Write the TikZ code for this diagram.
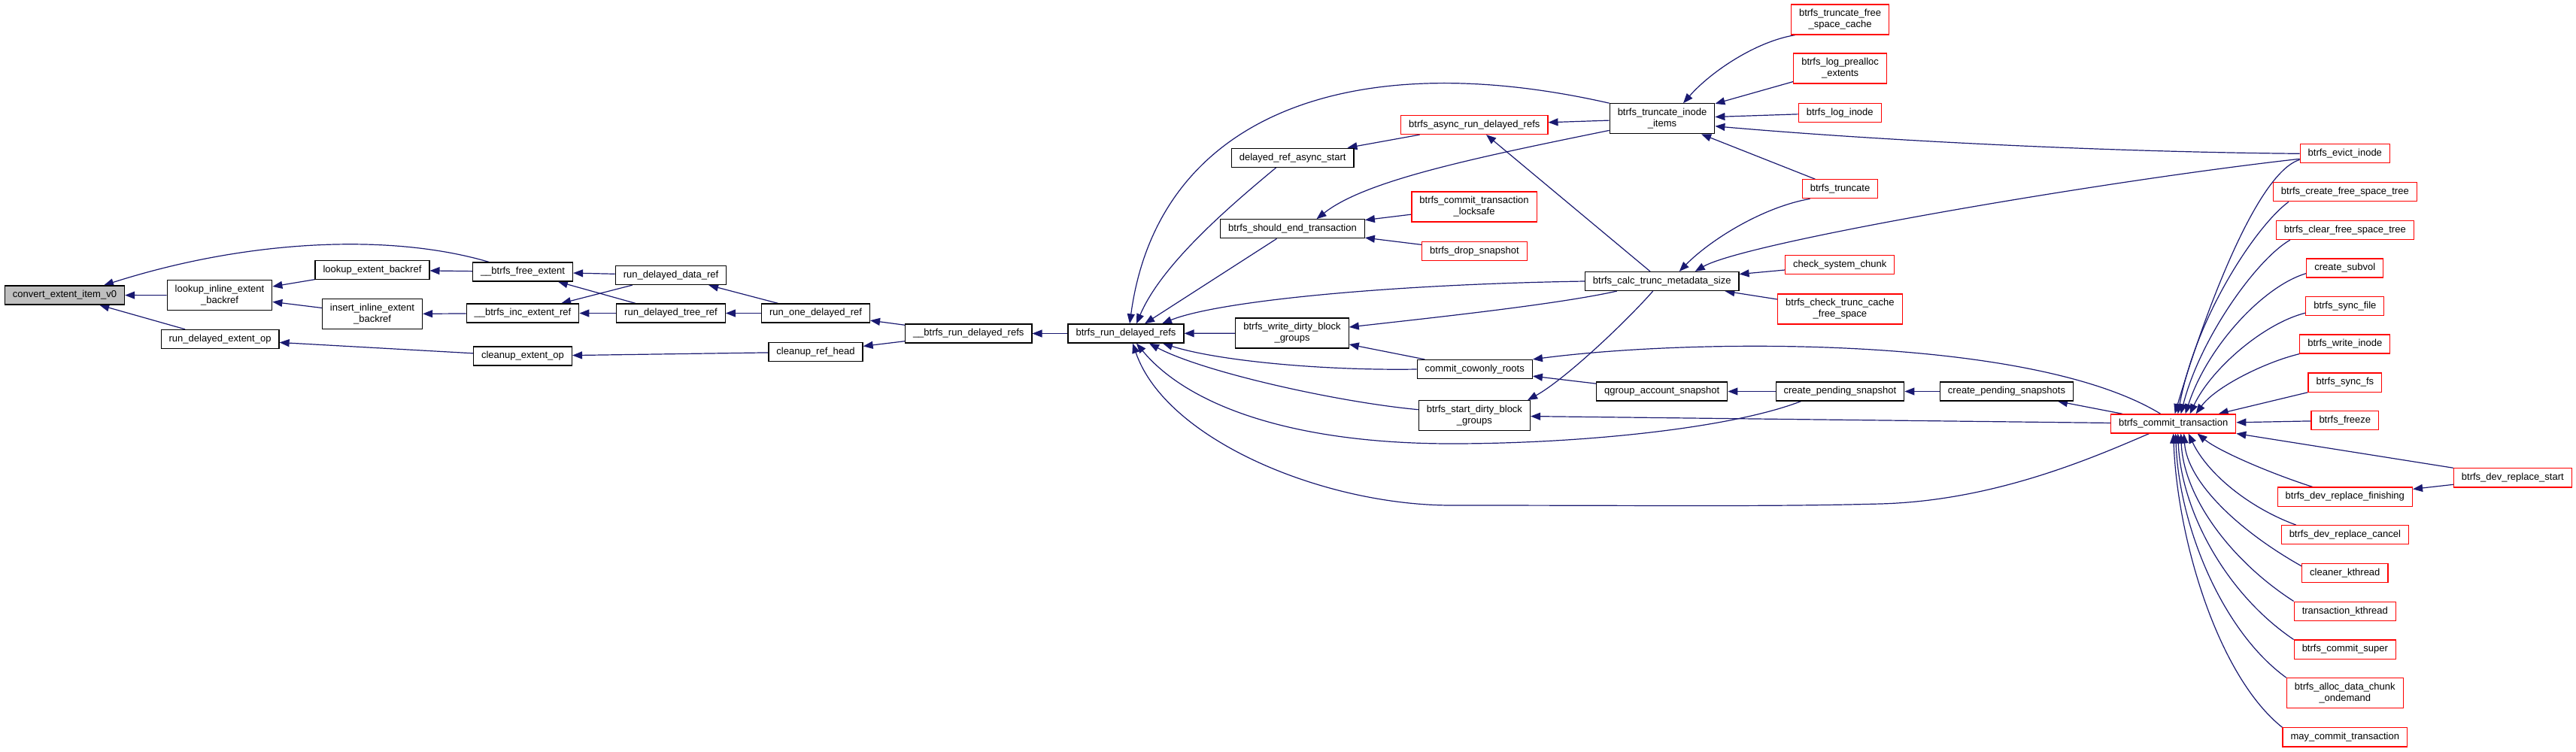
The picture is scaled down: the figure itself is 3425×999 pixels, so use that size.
\documentclass[tikz,border=0pt]{standalone}
\usepackage{fontspec}
\setmainfont{Liberation Sans}
\usetikzlibrary{arrows.meta,backgrounds}
\definecolor{navy}{HTML}{191970}

\begin{document}
\begin{tikzpicture}[x=1pt, y=-1pt,
  fn/.style={draw=black, line width=1.2pt, fill=white, align=center,
             font=\fontsize{13}{15}\selectfont, minimum height=25pt,
             inner xsep=10.5pt, inner ysep=6.5pt},
  root/.style={fn, fill=black!25},
  trunc/.style={fn, draw=red},
  arr/.style={{Triangle[length=13pt,width=10pt]}-, line width=1.2pt, draw=navy}]
  \useasboundingbox (0,0) rectangle (3425,999);

  % callees on the left
  \node[root] (conv) at (86,392.5) {convert\_extent\_item\_v0};
  \node[fn] (lieb) at (292,392.7) {lookup\_inline\_extent\\\_backref};
  \node[fn] (rdeo) at (292.6,451) {run\_delayed\_extent\_op};
  \node[fn] (leb) at (495,359) {lookup\_extent\_backref};
  \node[fn] (iieb) at (495,417.7) {insert\_inline\_extent\\\_backref};
  \node[fn] (bfe) at (695,361.5) {\_\_btrfs\_free\_extent};
  \node[fn] (bier) at (695,416.5) {\_\_btrfs\_inc\_extent\_ref};
  \node[fn] (ceo) at (695,473.5) {cleanup\_extent\_op};
  \node[fn] (rddr) at (892,366) {run\_delayed\_data\_ref};
  \node[fn] (rdtr) at (892,416.5) {run\_delayed\_tree\_ref};
  \node[fn] (rodr) at (1084.5,416.5) {run\_one\_delayed\_ref};
  \node[fn] (crh) at (1084.5,468) {cleanup\_ref\_head};
  \node[fn] (ubrdr) at (1287.7,443.5) {\_\_btrfs\_run\_delayed\_refs};
  \node[fn] (brdr) at (1497,443.5) {btrfs\_run\_delayed\_refs};

  % middle
  \node[fn] (dras) at (1718.7,209.7) {delayed\_ref\_async\_start};
  \node[fn] (bset) at (1718.5,304.3) {btrfs\_should\_end\_transaction};
  \node[fn] (bwdbg) at (1718,443) {btrfs\_write\_dirty\_block\\\_groups};
  \node[trunc] (barfr) at (1960.3,166) {btrfs\_async\_run\_delayed\_refs};
  \node[trunc] (bctl) at (1960,275) {btrfs\_commit\_transaction\\\_locksafe};
  \node[trunc] (bds) at (1960.4,334) {btrfs\_drop\_snapshot};
  \node[fn] (ccr) at (1960.7,491) {commit\_cowonly\_roots};
  \node[fn] (bsdbg) at (1960.4,552.7) {btrfs\_start\_dirty\_block\\\_groups};
  \node[fn] (btii) at (2210,157.8) {btrfs\_truncate\_inode\\\_items};
  \node[fn] (bctms) at (2209.7,374) {btrfs\_calc\_trunc\_metadata\_size};
  \node[fn] (qas) at (2209.7,520.5) {qgroup\_account\_snapshot};
  \node[trunc] (btfsc) at (2446.6,26) {btrfs\_truncate\_free\\\_space\_cache};
  \node[trunc] (blpe) at (2446.6,91) {btrfs\_log\_prealloc\\\_extents};
  \node[trunc] (bli) at (2446.2,150) {btrfs\_log\_inode};
  \node[trunc] (btr) at (2446.5,251.3) {btrfs\_truncate};
  \node[trunc] (csc) at (2446.2,352.3) {check\_system\_chunk};
  \node[trunc] (bctcfs) at (2446.4,411) {btrfs\_check\_trunc\_cache\\\_free\_space};
  \node[fn] (cps) at (2446.4,520.5) {create\_pending\_snapshot};
  \node[fn] (cpss) at (2668,520.5) {create\_pending\_snapshots};
  \node[trunc] (bct) at (2889.6,563.4) {btrfs\_commit\_transaction};

  % callers on the right
  \node[trunc] (bei) at (3117.8,204.3) {btrfs\_evict\_inode};
  \node[trunc] (bcfst) at (3117.8,255.3) {btrfs\_create\_free\_space\_tree};
  \node[trunc] (bclfst) at (3117.8,306) {btrfs\_clear\_free\_space\_tree};
  \node[trunc] (cs) at (3117.8,356.5) {create\_subvol};
  \node[trunc] (bsf) at (3117.8,407) {btrfs\_sync\_file};
  \node[trunc] (bwi) at (3117.8,457.5) {btrfs\_write\_inode};
  \node[trunc] (bsfs) at (3117.8,508.6) {btrfs\_sync\_fs};
  \node[trunc] (bfz) at (3117.8,559) {btrfs\_freeze};
  \node[trunc] (bdrf) at (3117.8,660.6) {btrfs\_dev\_replace\_finishing};
  \node[trunc] (bdrc) at (3117.8,711.2) {btrfs\_dev\_replace\_cancel};
  \node[trunc] (ck) at (3117.8,761.9) {cleaner\_kthread};
  \node[trunc] (tk) at (3117.8,812.6) {transaction\_kthread};
  \node[trunc] (bcs) at (3117.8,863.6) {btrfs\_commit\_super};
  \node[trunc] (badco) at (3117.8,921.8) {btrfs\_alloc\_data\_chunk\\\_ondemand};
  \node[trunc] (mct) at (3117.8,980.4) {may\_commit\_transaction};
  \node[trunc] (bdrs) at (3340.8,635.4) {btrfs\_dev\_replace\_start};

  \begin{scope}[on background layer]
  % left part
  \draw[arr] (conv) -- (lieb);
  \draw[arr] ([xshift=52pt]conv.north) .. controls (330,318) and (520,310) .. ([xshift=-45pt]bfe.north);
  \draw[arr] (conv) -- (rdeo);
  \draw[arr] (lieb) -- (leb);
  \draw[arr] (lieb) -- (iieb);
  \draw[arr] (leb) -- (bfe);
  \draw[arr] (iieb) -- (bier);
  \draw[arr] (rdeo) -- (ceo);
  \draw[arr] (bfe) -- (rddr);
  \draw[arr] (bfe) -- (rdtr);
  \draw[arr] (bier) -- (rddr);
  \draw[arr] (bier) -- (rdtr);
  \draw[arr] (rddr) -- (rodr);
  \draw[arr] (rdtr) -- (rodr);
  \draw[arr] (rodr) -- (ubrdr);
  \draw[arr] (crh) -- (ubrdr);
  \draw[arr] (ceo) -- (crh);
  \draw[arr] (ubrdr) -- (brdr);

  % into btrfs_run_delayed_refs
  \draw[arr] (brdr) -- (bwdbg);
  \draw[arr] ([xshift=5pt]brdr.north) .. controls (1540,150) and (1800,60) .. (btii.north west);
  \draw[arr] ([xshift=14pt]brdr.north) .. controls (1545,350) and (1640,270) .. ([xshift=-22pt]dras.south);
  \draw[arr] ([xshift=25pt]brdr.north) -- ([xshift=-21pt]bset.south);
  \draw[arr] ([xshift=48pt]brdr.north) .. controls (1620,400) and (1850,378) .. (bctms.west);
  \draw[arr] ([xshift=49pt]brdr.south) .. controls (1620,480) and (1760,493) .. (ccr.west);
  \draw[arr] ([xshift=31pt]brdr.south) .. controls (1600,495) and (1780,535) .. ([yshift=8pt]bsdbg.west);
  \draw[arr] ([xshift=14pt]brdr.south) .. controls (1580,540) and (1720,590) .. (1930,590)
    .. controls (2100,590) and (2300,570) .. ([xshift=-52pt]cps.south);
  \draw[arr] ([xshift=9pt]brdr.south) .. controls (1550,585) and (1760,672) .. (1930,672)
    .. controls (2200,672) and (2350,674) .. (2500,670)
    .. controls (2650,666) and (2780,610) .. ([xshift=-32pt]bct.south);

  % middle part
  \draw[arr] ([xshift=32pt]bset.north) .. controls (1815,240) and (1960,210) .. ([yshift=5pt]btii.south west);
  \draw[arr] (bset) -- (bctl);
  \draw[arr] (bset) -- (bds);
  \draw[arr] (dras) -- (barfr);
  \draw[arr] (barfr) -- (btii);
  \draw[arr] (barfr) -- (bctms);
  \draw[arr] ([yshift=8pt]bwdbg.east) .. controls (1900,423) and (2070,405) .. ([xshift=-60pt]bctms.south);
  \draw[arr] (bwdbg) -- (ccr);
  \draw[arr] (ccr.north east) .. controls (2250,450) and (2700,445) .. ([xshift=-17pt]bct.north);
  \draw[arr] (ccr) -- (qas);
  \draw[arr] (qas) -- (cps);
  \draw[arr] (cps) -- (cpss);
  \draw[arr] (cpss) -- (bct);
  \draw[arr] (bsdbg) -- (bct);
  \draw[arr] ([xshift=-4pt]bsdbg.north east) .. controls (2080,505) and (2160,430) .. ([xshift=-12pt]bctms.south);

  % truncate side
  \draw[arr] ([xshift=28pt]btii.north) .. controls (2275,95) and (2335,55) .. ([xshift=-60pt]btfsc.south);
  \draw[arr] (btii) -- (blpe);
  \draw[arr] (btii) -- (bli);
  \draw[arr] ([yshift=-10pt]btii.east) .. controls (2500,187) and (2800,202) .. (bei.west);
  \draw[arr] (btii) -- (btr);
  \draw[arr] ([xshift=23pt]bctms.north) .. controls (2275,318) and (2345,275) .. ([xshift=-40pt]btr.south);
  \draw[arr] ([xshift=44pt]bctms.north) .. controls (2320,322) and (2800,240) .. ([yshift=-7pt]bei.west);
  \draw[arr] (bctms) -- (csc);
  \draw[arr] (bctms) -- (bctcfs);

  % into btrfs_commit_transaction
  \draw[arr] ([xshift=2pt]bct.north) .. controls (2930,420) and (3000,230) .. ([yshift=5pt]bei.south west);
  \draw[arr] ([xshift=6pt]bct.north) .. controls (2920,420) and (3000,300) .. ([xshift=21pt]bcfst.south west);
  \draw[arr] ([xshift=10pt]bct.north) .. controls (2925,450) and (3000,345) .. ([xshift=19pt]bclfst.south west);
  \draw[arr] ([xshift=16pt]bct.north) .. controls (2935,460) and (3010,380) .. ([yshift=6pt]cs.south west);
  \draw[arr] ([xshift=22pt]bct.north) .. controls (2940,490) and (3010,430) .. ([yshift=4pt]bsf.south west);
  \draw[arr] ([xshift=30pt]bct.north) .. controls (2945,515) and (3010,482) .. (bwi.south west);
  \draw[arr] ([xshift=60pt]bct.north) -- (bsfs.south west);
  \draw[arr] (bct) -- (bfz);
  \draw[arr] (bct.south east) -- (bdrs.north west);
  \draw[arr] (bdrf) -- (bdrs);
  \draw[arr] ([xshift=32pt]bct.south) .. controls (2950,600) and (3020,630) .. ([xshift=-43pt]bdrf.north);
  \draw[arr] ([xshift=20pt]bct.south) .. controls (2935,630) and (2990,675) .. ([xshift=20pt]bdrc.north west);
  \draw[arr] ([xshift=14pt]bct.south) .. controls (2908,640) and (2975,705) .. ([yshift=-4pt]ck.north west);
  \draw[arr] ([xshift=10pt]bct.south) .. controls (2903,660) and (2965,745) .. (tk.north west);
  \draw[arr] ([xshift=6pt]bct.south) .. controls (2900,680) and (2960,790) .. (bcs.north west);
  \draw[arr] ([xshift=3pt]bct.south) .. controls (2897,700) and (2955,840) .. (badco.north west);
  \draw[arr] (bct.south) .. controls (2895,720) and (2950,900) .. (mct.north west);
  \end{scope}
\end{tikzpicture}
\end{document}
